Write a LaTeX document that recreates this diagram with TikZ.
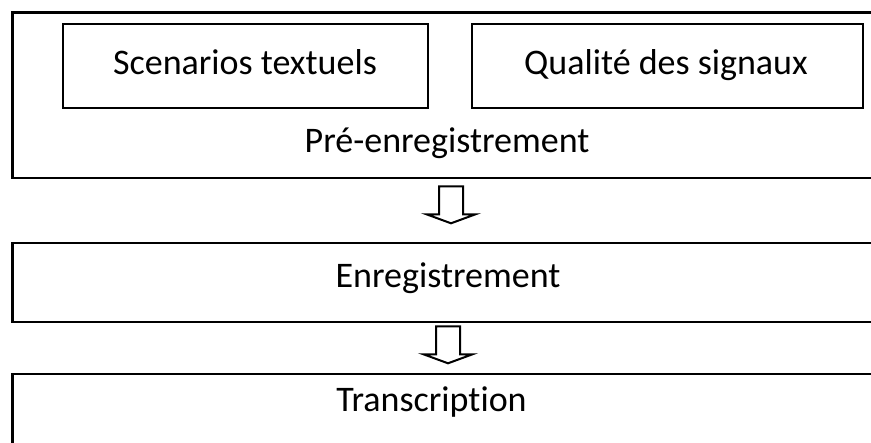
\documentclass[tikz,border=0pt]{standalone}
\usepackage{fontspec}
\setmainfont[Ligatures=NoCommon]{Carlito}
\usepackage{tikz}
\usetikzlibrary{calc}

\tikzset{
  box/.style={draw=black, line width=2.6pt, rectangle, inner sep=0pt},
  label/.style={inner sep=0pt, anchor=base, font=\fontsize{36}{43}\selectfont},
  hollow/.style={draw=black, line width=2pt, line join=miter}
}

\begin{document}
\begin{tikzpicture}[x=1pt,y=-1pt]
     \useasboundingbox (0,0) rectangle (871,443);

     % the three stages
     \node[box, minimum width=877pt, minimum height=165.5pt] (pre) at (451,95.25) {};
     \node[box, minimum width=877pt, minimum height=79pt] (enr) at (451,282.5) {};
     \node[box, minimum width=877pt, minimum height=96pt] (tra) at (451,422) {};

     % inside the first stage
     \node[box, minimum width=365pt, minimum height=84pt] (scen) at (245.5,66) {};
     \node[box, minimum width=391pt, minimum height=84pt] (qual) at (667.5,66) {};

     \node[label] (scentxt) at (245,75) {Scenarios textuels};
     \node[label] (qualtxt) at (666,75) {Qualité des signaux};
     \node[label] (pretxt) at (447,153) {Pré-enregistrement};
     \node[label] (enrtxt) at (448,288) {Enregistrement};
     \node[label] (tratxt) at (431.5,412) {Transcription};

     % hollow arrows between the stages
     \coordinate (a1) at ($(pre.south)+(0,7)$);
     \coordinate (a2) at ($(enr.south)+(-3,3)$);
     \draw[hollow] (a1) ++(-12,0) -- ++(24,0) -- ++(0,28) -- ++(12.5,0) -- ++(-24.5,9) -- ++(-24.5,-9) -- ++(12.5,0) -- cycle;
     \draw[hollow] (a2) ++(-12,0) -- ++(24,0) -- ++(0,28) -- ++(12.5,0) -- ++(-24.5,9) -- ++(-24.5,-9) -- ++(12.5,0) -- cycle;
\end{tikzpicture}
\end{document}
